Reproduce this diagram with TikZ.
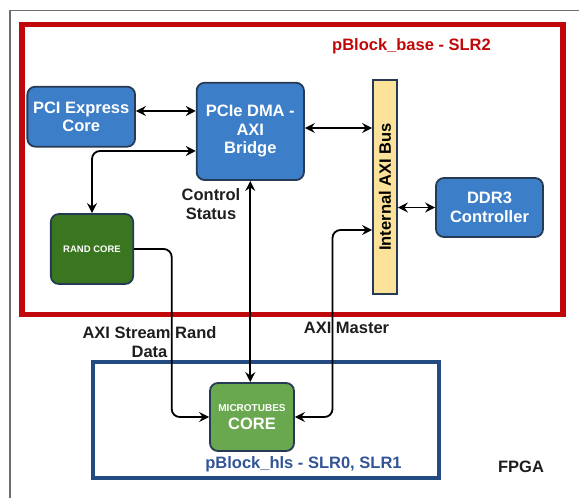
\documentclass[tikz,border=0pt]{standalone}
\usepackage{fontspec}
\setmainfont{Liberation Sans}
\usetikzlibrary{arrows.meta,calc}
\definecolor{boxblue}{RGB}{61,126,200}
\definecolor{boxedge}{RGB}{38,58,86}
\definecolor{darkgreen}{RGB}{58,118,32}
\definecolor{lightgreen}{RGB}{106,168,79}
\definecolor{busfill}{RGB}{252,226,152}
\definecolor{slrred}{RGB}{192,8,10}
\definecolor{slrblue}{RGB}{35,75,130}
\definecolor{hlsblue}{RGB}{50,85,150}
\definecolor{txt}{RGB}{30,30,30}
\definecolor{framegray}{RGB}{110,110,110}
\begin{document}
\begin{tikzpicture}[x=1pt,y=-1pt,
  lbl/.style={font=\fontsize{16.5}{18.5}\selectfont\bfseries, text=txt, align=center, inner sep=0pt},
  block/.style={draw=boxedge, line width=1.8pt, rounded corners=8pt, inner sep=0pt, align=center,
    text=white, font=\fontsize{16.5}{18.5}\selectfont\bfseries},
  bluebox/.style={block, fill=boxblue},
  conn/.style={draw=black, line width=1.8pt, rounded corners=8pt},
  tip/.style={{Stealth[length=10pt,width=10pt,inset=3.5pt]}-{Stealth[length=10pt,width=10pt,inset=3.5pt]}},
  tipend/.style={-{Stealth[length=10pt,width=10pt,inset=3.5pt]}}
]
\useasboundingbox (0,0) rectangle (579,502);
% outer frame
\draw[framegray, line width=1.2pt] (10,498) -- (10,10.5) -- (582,10.5);
% red pblock
\draw[slrred, line width=5.5pt] (22,24.5) rectangle (563,314.5);
\node[lbl, text=slrred] (tbase) at (411.5,46.5) {pBlock\_base - SLR2};
% blue pblock
\draw[slrblue, line width=4pt] (93,362) rectangle (439,478);
\node[lbl, text=hlsblue] (thls) at (303.5,464.5) {pBlock\_hls - SLR0, SLR1};
\node[lbl] (fpga) at (521,466.5) {FPGA};

% blocks
\node[bluebox, minimum width=107.7pt, minimum height=60pt] (pci) at (81.2,116.7) {PCI Express\\Core};
\node[bluebox, minimum width=107.3pt, minimum height=97.3pt] (dma) at (250.3,131.4) {PCIe DMA -\\AXI\\Bridge};
\node[bluebox, minimum width=107pt, minimum height=59pt] (ddr) at (489.5,207.5) {DDR3\\Controller};
\node[block, fill=darkgreen, minimum width=82.3pt, minimum height=70pt,
  font=\fontsize{9.5}{11}\selectfont\bfseries] (rand) at (92,249) {RAND CORE};
\node[block, fill=lightgreen, minimum width=84pt, minimum height=68pt] (micro) at (252,417)
  {{\fontsize{10}{12}\selectfont MICROTUBES}\\[-1pt]CORE};
\node[draw=boxedge, line width=1.8pt, fill=busfill, minimum width=24pt, minimum height=214pt, inner sep=0pt] (bus) at (385,187) {};
\node[lbl, text=black, rotate=90] (bustxt) at (bus.center) {Internal AXI Bus};

% labels
\node[lbl] (ctrl) at (211,204) {Control\\Status};
\node[lbl] (stream) at (149.5,342) {AXI Stream Rand\\Data};
\node[lbl] (master) at (346.5,328) {AXI Master};

% connectors
\coordinate (rc) at (171.7,417);
\coordinate (am) at (332.5,417);
\draw[conn, tip] (pci.east |- 0,111) -- (dma.west |- 0,111);
\draw[conn, tip] (dma.west |- 0,151) -| (rand.north);
\draw[conn, tip] (dma.east |- 0,128) -- (bus.west |- 0,128);
\draw[conn, tip] (bus.east |- ddr.west) -- (ddr.west);
\draw[conn, tip] (dma.south) -- (dma.south |- micro.north);
\draw[conn, tipend] (rand.east |- 0,249) -| (rc) -- (micro.west);
\draw[conn, tip] (micro.east) -- (am) |- (bus.west |- 0,230);
\end{tikzpicture}
\end{document}
